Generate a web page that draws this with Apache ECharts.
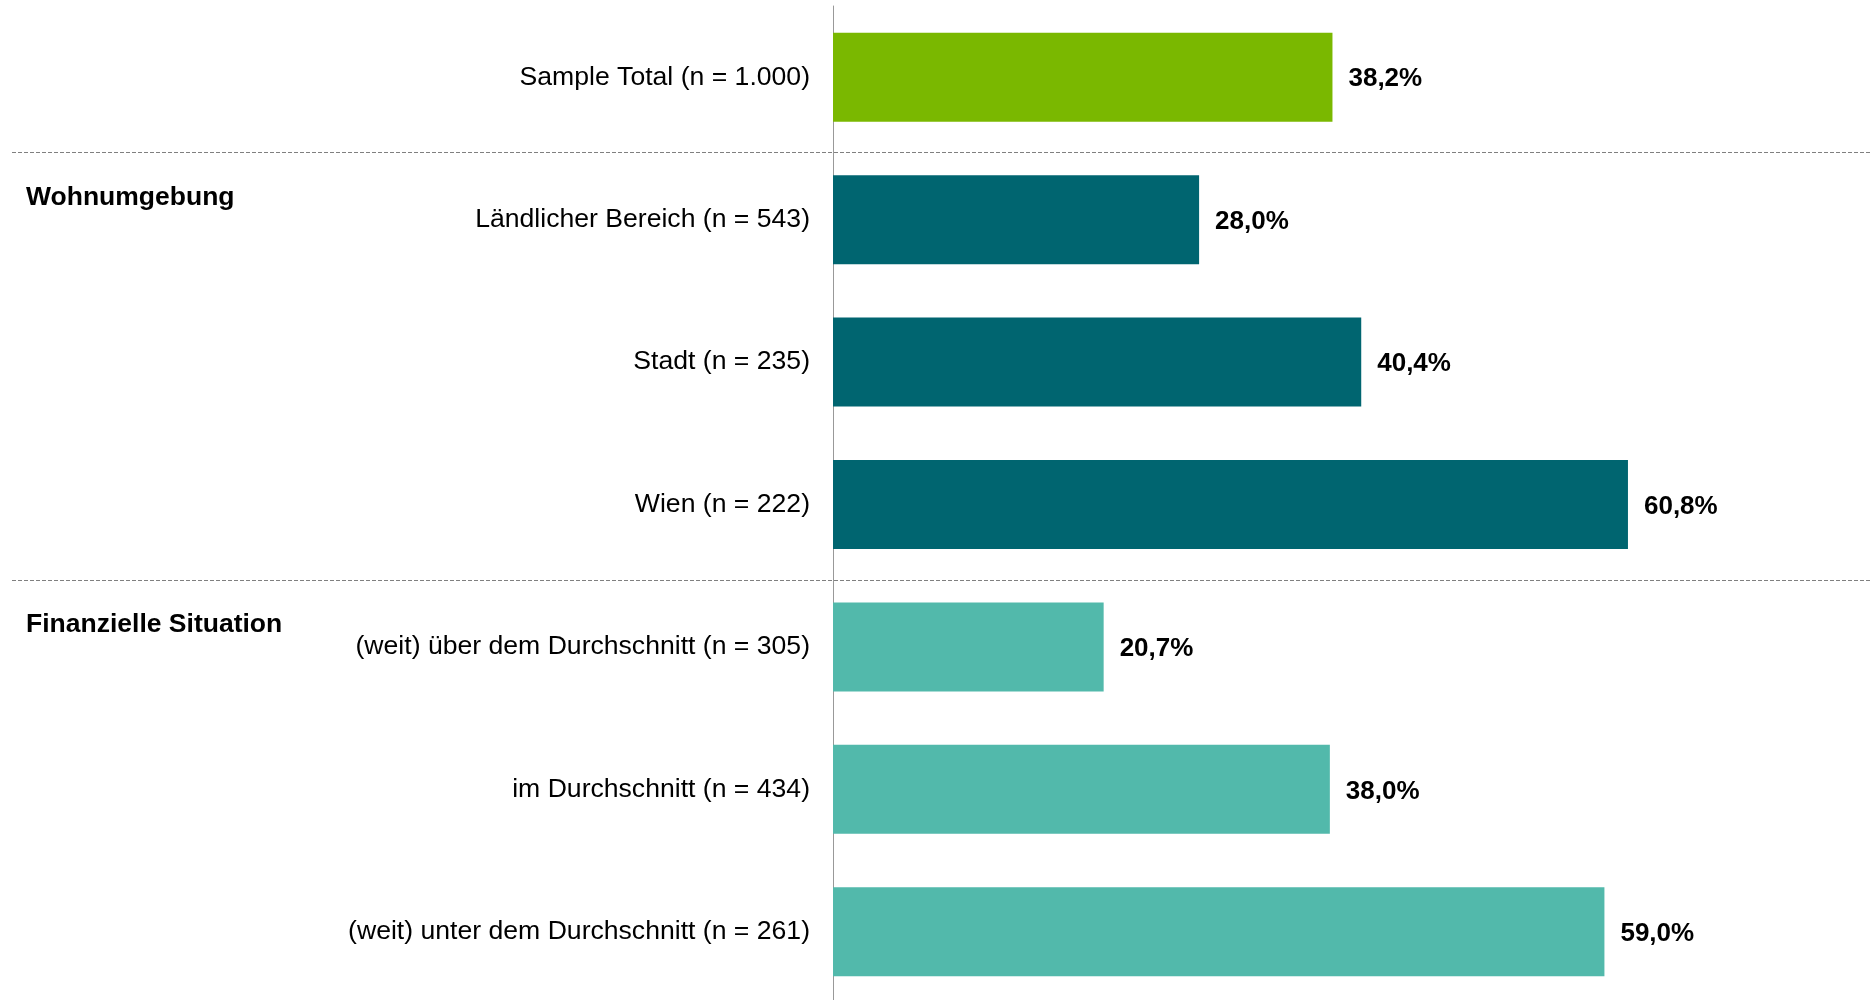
<!DOCTYPE html>
<html>
<head>
<meta charset="utf-8">
<script src="https://cdn.jsdelivr.net/npm/echarts@6/dist/echarts.min.js"></script>
<style>
html,body{margin:0;padding:0;background:#fff;}
#myChart{width:1872px;height:1000px;}
</style>
</head>
<body>
<div id="myChart"></div>
<script>
/*Daten*/
var categories = ['Sample Total (n = 1.000)', 'Ländlicher Bereich (n = 543)', 'Stadt (n = 235)', 'Wien (n = 222)',
    '(weit) über dem Durchschnitt (n = 305)', 'im Durchschnitt (n = 434)', '(weit) unter dem Durchschnitt (n = 261)'];
var values = [38.2, 28.0, 40.4, 60.8, 20.7, 38.0, 59.0];
var groups = [0, 1, 1, 1, 2, 2, 2];
var groupNames = ['', 'Wohnumgebung', 'Finanzielle Situation'];
var colors = ['#7ab800', '#006570', '#52b9ab'];

var font = '"Liberation Sans", Arial, sans-serif';

var myChart = echarts.init(document.getElementById('myChart'));

var data = [];
for (var i = 0; i < values.length; ++i) {
    data.push({value: values[i], itemStyle: {color: colors[groups[i]]}});
}

myChart.setOption({
    animation: false,
    grid: {left: 833, top: 6, width: 1046, height: 997, outerBoundsMode: 'none'},
    xAxis: {
        type: 'value', min: 0, max: 80, show: false
    },
    yAxis: {
        type: 'category',
        inverse: true,
        data: categories,
        axisLine: {show: true, lineStyle: {color: '#999', width: 1}},
        axisTick: {show: false},
        axisLabel: {fontSize: 26.6, color: '#000', fontFamily: font, margin: 23, padding: [5, 0, 0, 0]}
    },
    series: [{
        type: 'bar',
        data: data,
        barWidth: 89,
        silent: true,
        label: {
            show: true,
            position: 'right',
            distance: 16,
            offset: [0, 2],
            fontSize: 26,
            fontWeight: 'bold',
            color: '#000',
            fontFamily: font,
            formatter: function (p) {
                return p.value.toFixed(1).replace('.', ',') + '%';
            }
        }
    }]
});

/*Gruppen: Trennlinien und Überschriften*/
var graphics = [];
for (var i = 1; i < categories.length; ++i) {
    if (groups[i] == groups[i - 1]) continue;
    var yPrev = myChart.convertToPixel({yAxisIndex: 0}, categories[i - 1]);
    var yCur = myChart.convertToPixel({yAxisIndex: 0}, categories[i]);
    var yLine = Math.round((yPrev + yCur) / 2 + 4) + 0.5;
    graphics.push({
        type: 'line',
        shape: {x1: 12, y1: yLine, x2: 1872, y2: yLine},
        style: {stroke: '#808080', lineWidth: 1, lineDash: [4, 2]},
        silent: true
    });
    graphics.push({
        type: 'text',
        x: 26,
        y: yCur - 22,
        style: {
            text: groupNames[groups[i]],
            font: 'bold 26.5px ' + font,
            fill: '#000',
            verticalAlign: 'middle'
        },
        silent: true
    });
}
myChart.setOption({graphic: graphics});
</script>
</body>
</html>
